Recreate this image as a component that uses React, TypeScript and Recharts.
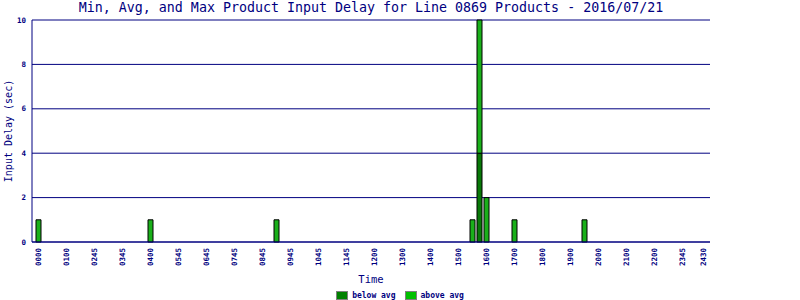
import { Bar, BarChart, CartesianGrid, Legend, XAxis, YAxis } from 'recharts'

const navy = '#000080'
const mono = '"DejaVu Sans Mono", monospace'

// one category per 15 minutes of the day
const slotTimes = Array.from({ length: 96 }, (_, i) => {
  const h = Math.floor(i / 4)
  const m = (i % 4) * 15
  return String(h).padStart(2, '0') + String(m).padStart(2, '0')
})

// slots that carry a label, and the text the chart prints there
const tickSlots = [
  '0000', '0100', '0200', '0300', '0400', '0500', '0600', '0700', '0800', '0900', '1000', '1100',
  '1200', '1300', '1400', '1500', '1600', '1700', '1800', '1900', '2000', '2100', '2200', '2300', '2345',
]
const tickLabels = [
  '0000', '0100', '0245', '0345', '0400', '0545', '0645', '0745', '0845', '0945', '1045', '1145',
  '1200', '1300', '1400', '1500', '1600', '1700', '1800', '1900', '2000', '2100', '2200', '2345', '2430',
]

const belowAvg: [string, number][] = [['1545', 4]]
const aboveAvg: [string, number][] = [
  ['0000', 1],
  ['0400', 1],
  ['0830', 1],
  ['1530', 1],
  ['1545', 6],
  ['1600', 2],
  ['1700', 1],
  ['1930', 1],
]

const data = slotTimes.map((time) => ({
  time,
  below: belowAvg.find((p) => p[0] === time)?.[1] ?? 0,
  above: aboveAvg.find((p) => p[0] === time)?.[1] ?? 0,
}))

function TimeTick({ x, y, payload }: any) {
  const label = tickLabels[tickSlots.indexOf(payload.value)]
  return (
    <text
      x={x}
      y={y}
      transform={`rotate(-90, ${x}, ${y})`}
      textAnchor="end"
      dy="0.35em"
      fill={navy}
      fontSize={7.5}
      fontFamily={mono}
      fontWeight="bold"
    >
      {label}
    </text>
  )
}

function LegendBox() {
  const item = (color: string, text: string) => (
    <div style={{ display: 'flex', alignItems: 'center' }}>
      <div style={{ width: 10, height: 7, background: color, border: '1px solid #808080', marginRight: 4 }} />
      <span style={{ fontSize: 8, fontFamily: mono, color: navy, fontWeight: 'bold' }}>{text}</span>
    </div>
  )
  return (
    <div style={{ height: 16, display: 'flex', justifyContent: 'center', alignItems: 'flex-end', gap: 9, paddingLeft: 0 }}>
      {item('#008000', 'below avg')}
      {item('#00c000', 'above avg')}
    </div>
  )
}

export default function App() {
  return (
    <div style={{ position: 'absolute', left: 0, top: 0, width: 800, height: 300, background: '#fff' }}>
      <div
        style={{
          position: 'absolute',
          left: 0,
          top: 0,
          width: 742,
          textAlign: 'center',
          fontFamily: mono,
          fontSize: 13.3,
          lineHeight: '16px',
          color: navy,
          whiteSpace: 'nowrap',
        }}
      >
        Min, Avg, and Max Product Input Delay for Line 0869 Products - 2016/07/21
      </div>
      <BarChart width={800} height={300} data={data} margin={{ top: 20, right: 90, bottom: 0, left: 0 }}>
        <CartesianGrid stroke={navy} vertical={false} />
        <XAxis
          dataKey="time"
          ticks={tickSlots}
          interval={0}
          tick={<TimeTick />}
          tickLine={false}
          tickSize={6}
          tickMargin={0}
          height={42}
          padding={{ left: 3, right: 3 }}
          axisLine={{ stroke: navy }}
          label={{ value: 'Time', position: 'insideBottom', offset: 1, fill: navy, fontSize: 10.5, fontFamily: mono }}
        />
        <YAxis
          domain={[0, 10]}
          ticks={[0, 2, 4, 6, 8, 10]}
          width={32}
          tickLine={false}
          tickSize={6}
          tickMargin={0}
          axisLine={{ stroke: navy }}
          tick={{ fill: navy, fontSize: 7.5, fontFamily: mono, fontWeight: 'bold' }}
          label={{
            value: 'Input Delay (sec)',
            angle: -90,
            position: 'insideLeft',
            offset: 8,
            textAnchor: 'middle',
            fill: navy,
            fontSize: 10,
            fontFamily: mono,
          }}
        />
        <YAxis yAxisId="r" orientation="right" domain={[0, 10]} width={0} tick={false} tickLine={false} axisLine={{ stroke: navy }} />
        <Legend verticalAlign="bottom" wrapperStyle={{ left: 0, width: 800, bottom: 0 }} content={() => <LegendBox />} />
        <Bar dataKey="below" stackId="a" barSize={5} fill="#087808" stroke="#000" strokeWidth={1} isAnimationActive={false} />
        <Bar dataKey="above" stackId="a" barSize={5} fill="#1ab01a" stroke="#000" strokeWidth={1} isAnimationActive={false} />
      </BarChart>
    </div>
  )
}
